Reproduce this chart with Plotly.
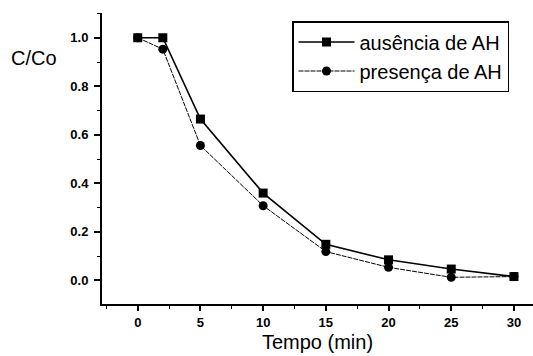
import plotly.graph_objects as go

tempo = [0, 2, 5, 10, 15, 20, 25, 30]
ausencia = [1.0, 1.0, 0.665, 0.36, 0.149, 0.085, 0.047, 0.016]
presenca = [1.0, 0.953, 0.556, 0.308, 0.119, 0.054, 0.013, 0.016]
x_ticks = [0, 5, 10, 15, 20, 25, 30]
y_ticks = [0.0, 0.2, 0.4, 0.6, 0.8, 1.0]

FONT = "Liberation Sans, Arial, sans-serif"

fig = go.Figure()
fig.add_trace(go.Scatter(x=tempo, y=ausencia, mode="lines+markers", name="ausência de AH",
                         line=dict(color="black", width=1.6),
                         marker=dict(symbol="square", size=9, color="black")))
fig.add_trace(go.Scatter(x=tempo, y=presenca, mode="lines+markers", name="presença de AH",
                         line=dict(color="black", width=1, dash="5px,1px"),
                         marker=dict(symbol="circle", size=9, color="black")))

L, R, T, B = 102, 0, 13, 52
W, H = 533, 356
pw, ph = W - L - R, H - T - B

fig.update_layout(
    width=W, height=H,
    margin=dict(l=L, r=R, t=T, b=B),
    plot_bgcolor="white", paper_bgcolor="white",
    font=dict(family=FONT, color="black"),
    showlegend=True,
    legend=dict(x=(292 - L) / pw, y=(H - B - 21) / ph, xanchor="left", yanchor="top",
                bordercolor="black", borderwidth=1.5, bgcolor="white",
                font=dict(size=20, family=FONT),
                tracegroupgap=0, itemwidth=56),
    xaxis=dict(range=[-2.85, 31.52], tickvals=x_ticks, ticktext=[str(v) for v in x_ticks],
               showgrid=False, zeroline=False, showline=True, linecolor="black", linewidth=2,
               ticks="outside", ticklen=5, tickwidth=1.5, tickcolor="black",
               tickfont=dict(size=13, family=FONT, weight="bold"),
               minor=dict(dtick=2.5, ticks="outside", ticklen=3, tickcolor="black", tickwidth=1),
               title=dict(text="Tempo (min)", font=dict(size=20), standoff=6)),
    yaxis=dict(range=[-0.097, 1.102], tickvals=y_ticks, ticktext=["%.1f" % v for v in y_ticks],
               showgrid=False, zeroline=False, showline=True, linecolor="black", linewidth=2,
               ticks="outside", ticklen=6, tickwidth=1.5, tickcolor="black",
               ticklabelstandoff=3,
               tickfont=dict(size=13, family=FONT, weight="bold"),
               minor=dict(dtick=0.1, ticks="outside", ticklen=3, tickcolor="black", tickwidth=1)),
    annotations=[dict(text="C/Co", x=(34 - L) / pw, y=(H - B - 58) / ph, xref="paper", yref="paper",
                      showarrow=False, xanchor="center", yanchor="middle",
                      font=dict(size=20, family=FONT))],
)

fig.write_html("out.html")
